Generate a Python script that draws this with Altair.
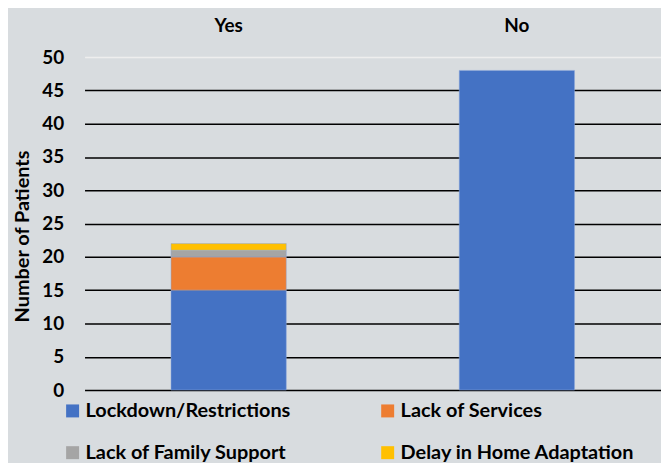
import altair as alt
import pandas as pd

groups = ["Yes", "Yes", "Yes", "Yes", "No"]
reasons = ["Lockdown/Restrictions", "Lack of Services", "Lack of Family Support",
           "Delay in Home Adaptation", "Lockdown/Restrictions"]
patients = [15, 5, 1, 1, 48]
reason_order = ["Lockdown/Restrictions", "Lack of Services",
                "Lack of Family Support", "Delay in Home Adaptation"]
colors = ["#4472C4", "#ED7D31", "#A5A5A5", "#FFC000"]

df = pd.DataFrame({"group": groups, "reason": reasons, "patients": patients})
df["ord"] = df["reason"].map({r: i for i, r in enumerate(reason_order)})

FONT = "Lato"

chart = alt.Chart(df).mark_bar(stroke="#8faadc", strokeWidth=0.5).encode(
    x=alt.X("group:N", sort=["Yes", "No"], title=None,
            scale=alt.Scale(paddingInner=0.6, paddingOuter=0.3),
            axis=alt.Axis(orient="top", ticks=False, domain=False, labelAngle=0,
                          labelFont=FONT, labelFontSize=19, labelFontWeight="bold",
                          labelColor="black", labelPadding=22)),
    y=alt.Y("sum(patients):Q", title="Number of Patients",
            scale=alt.Scale(domain=[0, 50]),
            axis=alt.Axis(values=list(range(0, 51, 5)), ticks=False, domain=False,
                          gridColor=alt.condition("datum.value == 50", alt.value("#eeeeee"), alt.value("black")),
                          gridWidth=1.5,
                          labelFont=FONT, labelFontSize=19, labelFontWeight="bold",
                          labelColor="black", labelPadding=21,
                          titleFont=FONT, titleFontSize=20, titleFontWeight="bold",
                          titleColor="black", titleBaseline="middle",
                          titleX=-62, titleY=180)),
    color=alt.Color("reason:N", scale=alt.Scale(domain=reason_order, range=colors),
                    legend=alt.Legend(title=None, orient="none", legendX=-22, legendY=346,
                                      direction="horizontal",
                                      columns=2, columnPadding=87, rowPadding=22,
                                      symbolType="square", symbolSize=170,
                                      symbolStrokeWidth=0, labelOffset=3,
                                      labelFont=FONT, labelFontSize=20,
                                      labelFontWeight="bold", labelColor="black",
                                      labelLimit=400)),
    order=alt.Order("ord:Q"),
).properties(
    width=580, height=335,
    autosize=alt.AutoSizeParams(type="none"),
    padding={"left": 77, "top": 48, "right": 0, "bottom": 72},
    background="#d8dcdf",
).configure_view(stroke=None)

chart.save("out.html", embed_options={"renderer": "svg", "actions": False})
